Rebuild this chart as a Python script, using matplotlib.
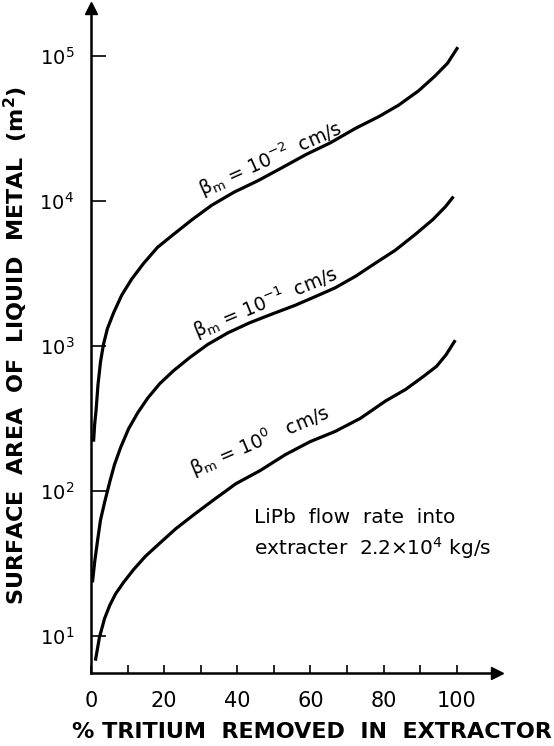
import numpy as np
import matplotlib
matplotlib.use("Agg")
import matplotlib.pyplot as plt
from matplotlib.ticker import FixedLocator, NullLocator

plt.rcParams['font.family'] = ['DejaVu Sans']
plt.rcParams['mathtext.fontset'] = 'dejavusans'
plt.rcParams['mathtext.default'] = 'regular'

# curves: % tritium removed vs log10(area / m^2)
x_b2 = [0.7, 1.0, 1.4, 1.9, 2.6, 3.4, 4.5, 6.2, 8.4, 11.1, 14.4, 18.2, 22.6, 27.6,
        33.0, 39.1, 45.7, 52.3, 58.8, 65.4, 72.3, 78.6, 84.1, 89.6, 94.0, 97.5, 100.3]
logy_b2 = [2.34, 2.46, 2.56, 2.73, 2.89, 3.01, 3.12, 3.23, 3.35, 3.46, 3.57, 3.68, 3.77, 3.87,
           3.97, 4.06, 4.14, 4.23, 4.32, 4.40, 4.50, 4.58, 4.66, 4.76, 4.86, 4.95, 5.06]

x_b1 = [0.4, 1.0, 1.8, 2.6, 3.7, 5.1, 6.4, 8.1, 10.3, 12.8, 15.5, 18.8, 22.6, 27.0,
        31.9, 37.4, 43.4, 49.5, 55.8, 61.3, 66.7, 72.3, 77.7, 83.2, 88.7, 93.4, 96.9, 99.1]
logy_b1 = [1.37, 1.51, 1.66, 1.80, 1.92, 2.06, 2.18, 2.30, 2.43, 2.54, 2.64, 2.74, 2.83, 2.92,
           3.01, 3.09, 3.16, 3.22, 3.28, 3.34, 3.40, 3.48, 3.57, 3.66, 3.77, 3.87, 3.96, 4.03]

x_b0 = [1.2, 2.3, 3.7, 5.1, 6.7, 8.9, 11.7, 14.9, 18.8, 23.2, 28.3, 33.6, 39.6, 46.2,
        53.1, 59.9, 66.7, 73.6, 80.5, 86.0, 90.9, 94.5, 97.1, 99.6]
logy_b0 = [0.83, 0.99, 1.12, 1.21, 1.29, 1.37, 1.46, 1.55, 1.64, 1.74, 1.84, 1.94, 2.05, 2.14,
           2.25, 2.34, 2.41, 2.50, 2.62, 2.70, 2.79, 2.86, 2.94, 3.04]

curve_labels = [r'$\beta_m$ = $10^{-2}$  cm/s', r'$\beta_m$ = $10^{-1}$  cm/s',
                r'$\beta_m$ = $10^{0}$   cm/s']
label_pos = [(30.4, 4.03), (29.0, 3.05), (28.0, 2.10)]
label_rot = [24, 22.5, 23]

y_ticks = [10, 100, 1000, 10000, 100000]
y_ticklabels = [r'$10^{1}$', r'$10^{2}$', r'$10^{3}$', r'$10^{4}$', r'$10^{5}$']
x_major = [0, 20, 40, 60, 80, 100]
x_minor = [10, 30, 50, 70, 90]

fig = plt.figure(figsize=(5.54, 7.46), dpi=100)
ax = fig.add_axes([91 / 554, 1 - 673 / 746, 406 / 554, 665 / 746])

for xs, ls in [(x_b2, logy_b2), (x_b1, logy_b1), (x_b0, logy_b0)]:
    ax.plot(xs, 10 ** np.array(ls), color='black', lw=2.3, solid_capstyle='butt',
            solid_joinstyle='round')

ax.set_yscale('log')
ax.set_xlim(0, 111)
ax.set_ylim(10 ** 0.745, 10 ** 5.33)

ax.yaxis.set_major_locator(FixedLocator(y_ticks))
ax.yaxis.set_minor_locator(NullLocator())
ax.set_yticklabels(y_ticklabels)
ax.set_xticks(x_major)
ax.set_xticks(x_minor, minor=True)

ax.tick_params(axis='y', which='major', direction='in', length=11, width=1.2,
               labelsize=14, pad=12)
ax.tick_params(axis='x', which='both', direction='in', length=6, width=1.2,
               labelsize=15, pad=13)

for side in ['top', 'right']:
    ax.spines[side].set_visible(False)
for side in ['left', 'bottom']:
    ax.spines[side].set_linewidth(1.8)

# arrow heads at the ends of the axes
ax.plot(0, 1, marker='^', color='black', ms=8, transform=ax.transAxes, clip_on=False)
ax.plot(1, 0, marker='>', color='black', ms=8, transform=ax.transAxes, clip_on=False)

for txt, (lx, ly), rot in zip(curve_labels, label_pos, label_rot):
    ax.text(lx, 10 ** ly, txt, rotation=rot, rotation_mode='anchor', ha='left',
            va='baseline', fontsize=13.5)

ax.text(44.5, 10 ** 1.56, 'LiPb  flow  rate  into\nextracter  2.2$\\times$10$^{4}$ kg/s',
        fontsize=14.5, ha='left', va='baseline', linespacing=1.4)

ax.set_xlabel('% TRITIUM  REMOVED  IN  EXTRACTOR', fontsize=16, fontweight='bold')
ax.set_ylabel('SURFACE  AREA  OF  LIQUID  METAL  (m$^\\mathbf{2}$)', fontsize=16,
              fontweight='bold')
ax.xaxis.set_label_coords(0.544, -0.073)
ax.yaxis.set_label_coords(-0.15, 0.493)

fig.savefig('out.png', dpi=100)
